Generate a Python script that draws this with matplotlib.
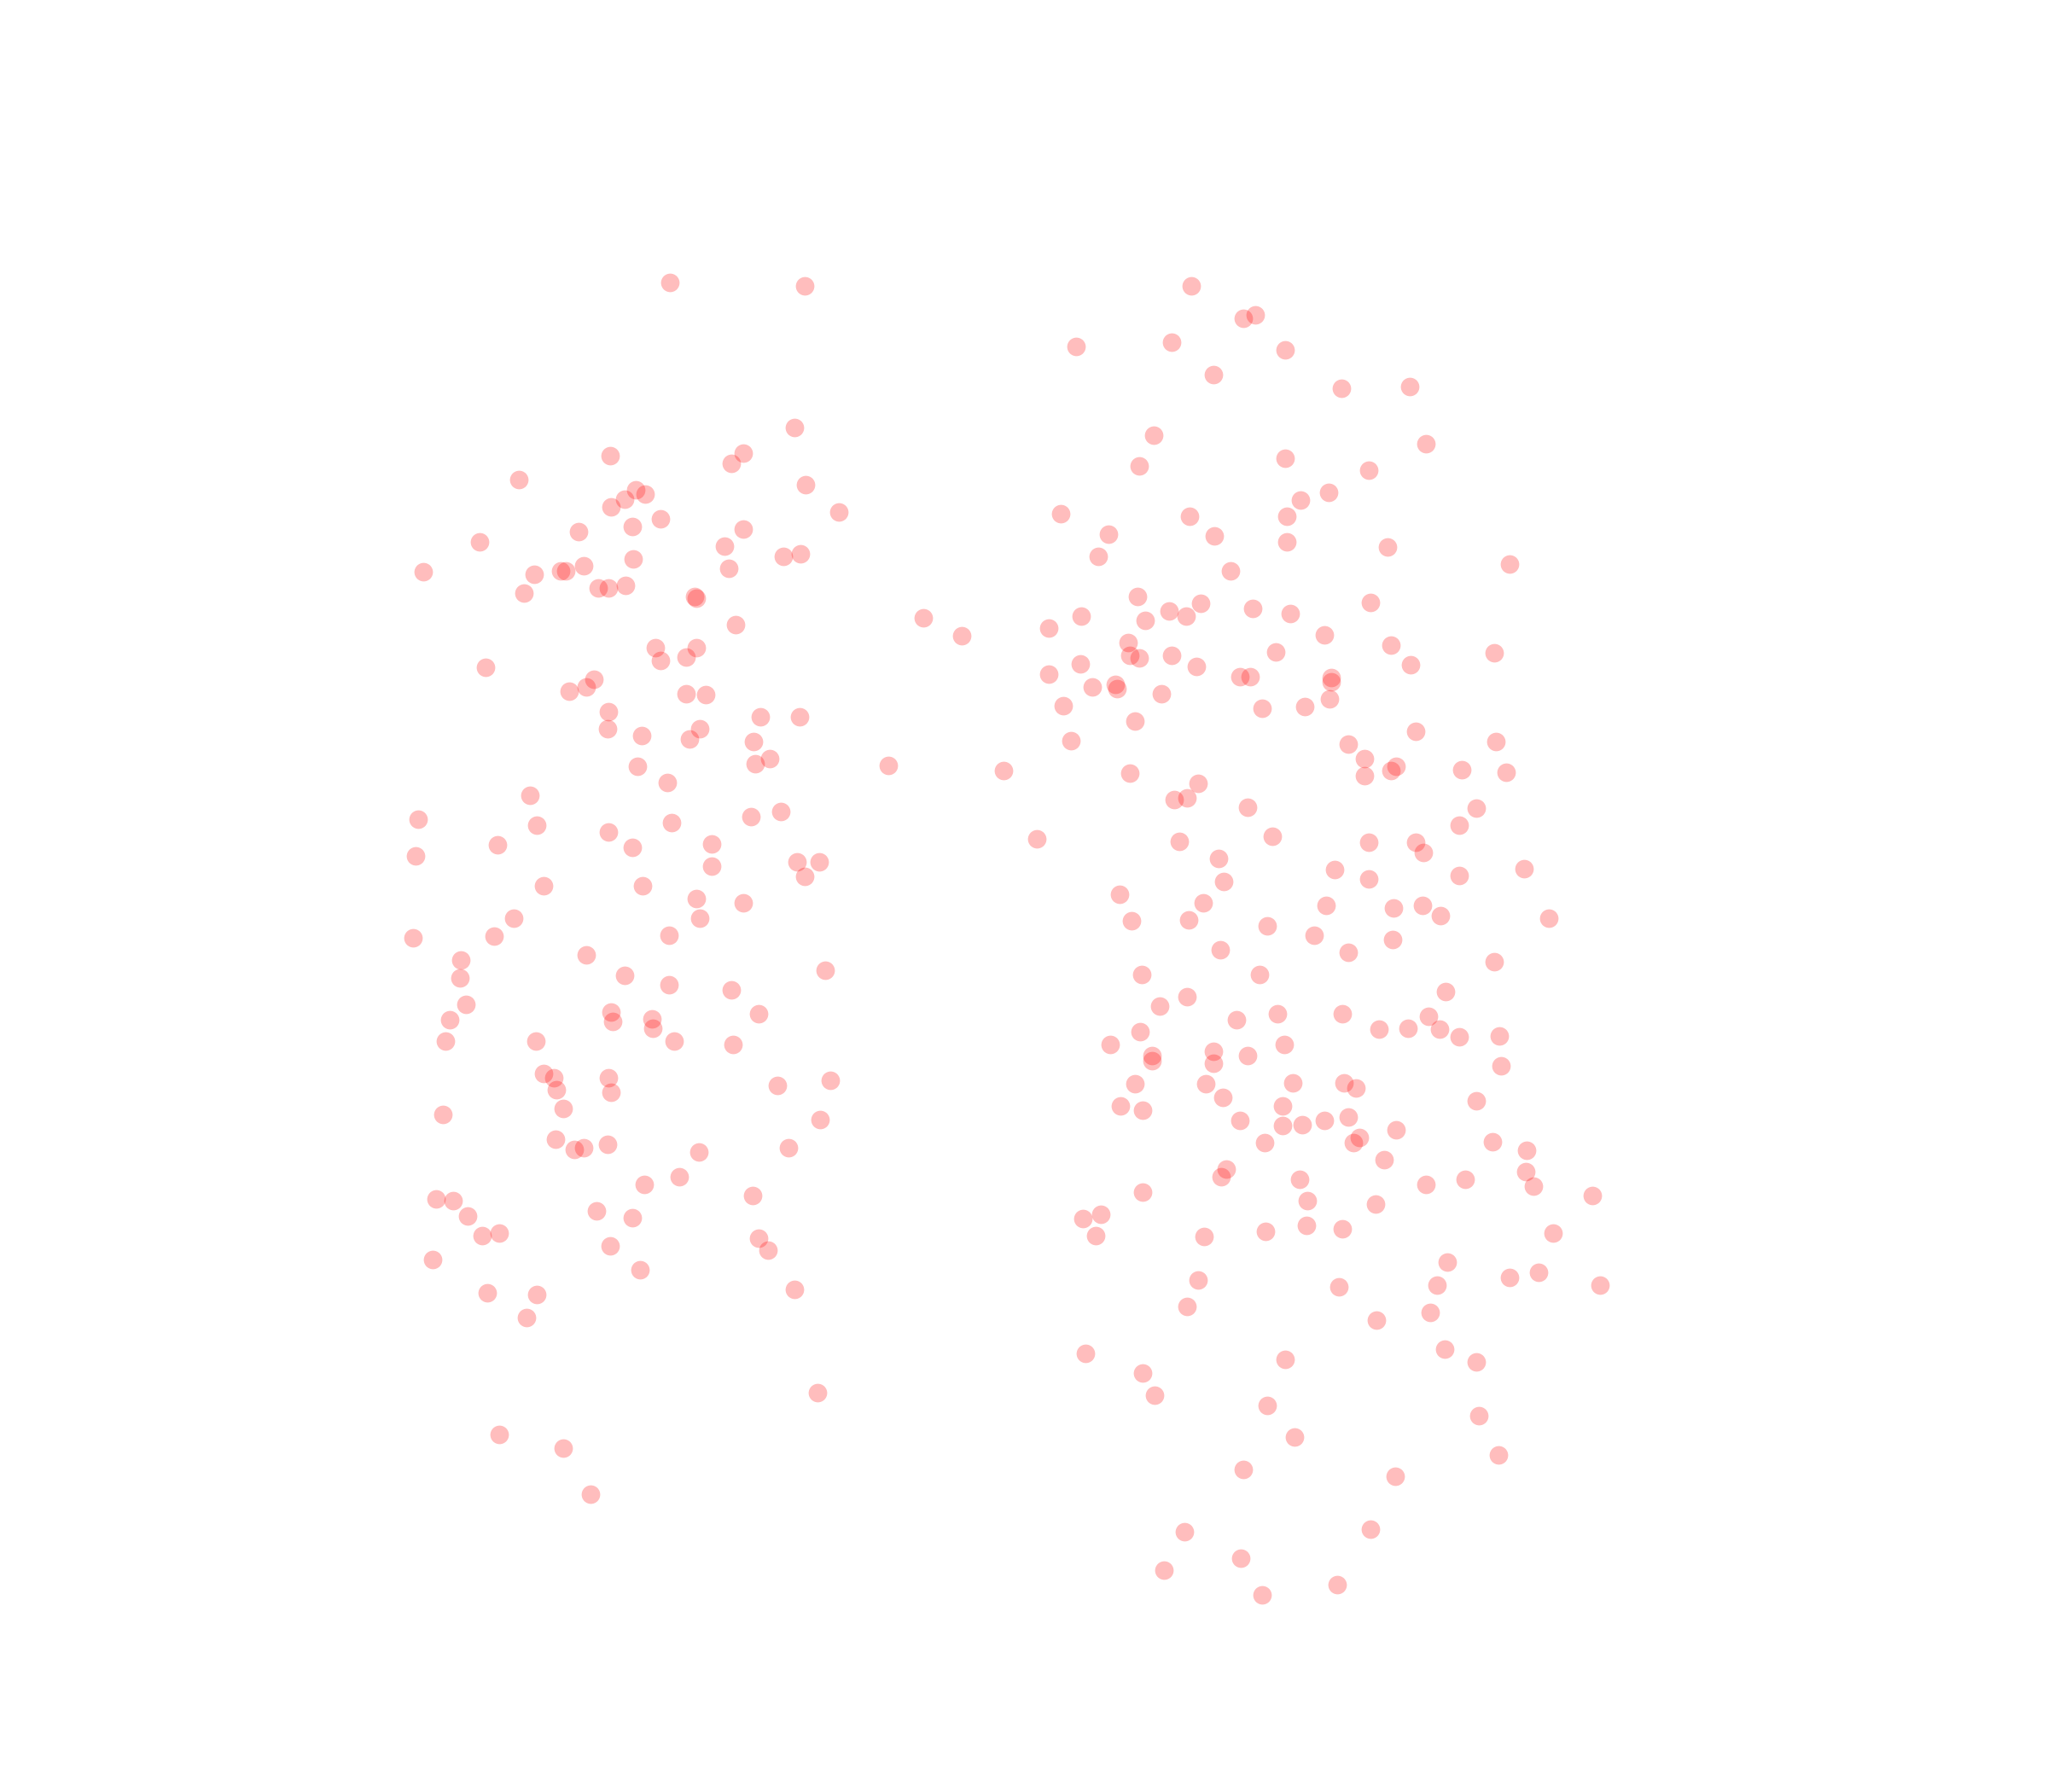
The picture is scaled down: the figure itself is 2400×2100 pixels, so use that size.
import numpy as np
import matplotlib
matplotlib.use('Agg')
import matplotlib.pyplot as plt

### points, x to the right, y downward ###
left_x = [513,616,608,569,560,467,397,617,487,494,478,468,642,506,484,443,569,367,555,613,600,485,324,409,429,433,447,558,479,466,458,401,532,533,563,502,533,525,506,372,455,449,436,525,540,466,582,612,465,536,491,528,577,589,578,488,511,406,598,575,320,514,411,466,545,381,484,318,610,627,545,616,492,416,533,569,393,536,378,512,316,449,353,632,478,352,512,560,357,468,581,344,469,499,500,341,410,516,561,416,424,466,636,595,426,468,431,339,628,425,465,447,440,604,535,520,493,334,347,576,457,358,484,382,369,581,467,588,331,490,608,373,411,403,626,382,431,452]
left_y = [216,219,327,347,355,349,367,371,375,378,382,388,392,397,403,407,405,415,418,424,426,428,438,440,437,437,433,435,448,450,450,454,457,458,478,496,496,503,506,511,520,526,529,531,532,545,549,549,558,558,563,566,568,581,585,587,599,609,621,625,627,630,632,637,646,647,649,655,660,660,663,671,678,678,688,691,703,703,717,716,718,731,735,743,747,749,754,758,769,775,776,781,782,780,787,797,797,797,800,822,825,825,827,831,834,836,849,853,857,872,876,879,880,879,882,901,907,918,919,915,927,931,932,944,946,948,954,957,964,972,987,990,991,1009,1066,1098,1109,1144]

mid_x = [707,736,680,768,794]
mid_y = [473,487,586,590,642]

right_x = [912,961,952,824,897,984,929,1027,1079,883,1092,984,872,1048,1017,996,812,911,985,849,930,985,1062,841,1156,942,871,1049,919,895,908,959,988,828,877,803,1014,864,1065,977,1144,865,872,897,827,1080,916,803,949,957,1019,1019,854,855,836,889,1018,814,966,999,869,1084,820,1145,1032,1045,1069,1065,1119,1153,865,1045,917,909,899,955,1130,1117,974,903,1048,1084,1090,933,1022,1167,1117,1048,937,857,921,1015,1089,1067,1103,866,910,1186,970,1006,1066,934,1032,1144,874,964,1107,909,888,978,1028,1094,947,1078,1056,1102,873,1117,1148,850,983,929,882,955,882,929,1149,990,1029,1038,869,923,936,1130,858,982,875,1032,949,1014,982,997,1069,1041,1036,968,1143,1169,1060,939,1168,935,995,1122,1092,1174,875,1219,1001,1053,843,829,1000,1028,969,1189,839,922,1108,1178,1156,917,1100,1025,1225,909,1095,1054,1106,831,984,1130,875,884,970,1132,991,1147,952,1068,1049,907,950,891,1024,966]
right_y = [219,241,244,265,262,268,287,297,296,333,340,351,357,360,377,383,393,395,395,409,410,415,419,426,432,437,457,461,462,468,472,466,470,472,475,481,486,492,494,499,500,502,504,502,508,509,510,516,518,518,519,522,524,527,526,531,535,540,542,541,552,560,567,568,570,581,587,590,589,591,592,594,600,611,612,618,619,632,640,644,645,645,653,657,666,665,670,673,675,685,691,693,693,695,701,705,704,703,709,716,719,727,729,736,746,746,759,763,770,776,776,778,781,787,788,788,790,794,793,800,800,805,808,808,812,814,816,829,829,833,830,830,840,843,847,847,850,855,858,858,862,861,865,871,875,875,874,881,888,895,897,901,903,903,907,908,913,915,919,922,930,933,938,941,943,944,946,947,966,974,978,980,984,985,984,1000,1005,1011,1033,1036,1041,1043,1051,1068,1076,1084,1100,1114,1125,1130,1171,1173,1193,1202,1213,1221]

x = np.array(left_x + mid_x + right_x)
y = np.array(left_y + mid_y + right_y)

fig = plt.figure(figsize=(24, 21), dpi=100)
ax = fig.add_axes([0, 0, 1, 1])
ax.scatter(x, y, s=245, color='red', alpha=0.26, linewidths=0)
ax.set_xlim(0, 1568)
ax.set_ylim(1372, 0)
ax.axis('off')
fig.savefig('out.png', dpi=100)
